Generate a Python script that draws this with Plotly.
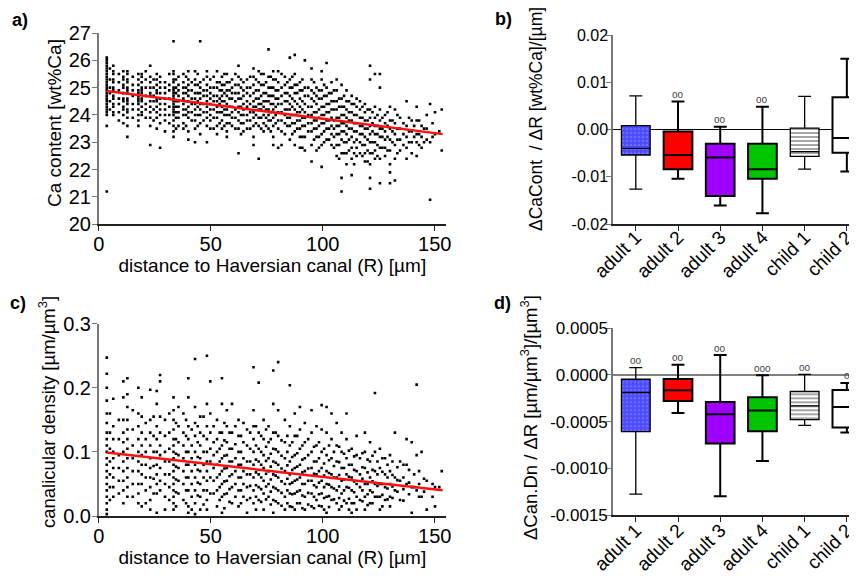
import plotly.graph_objects as go

# ---------------- Panel a: Ca content vs distance ----------------
a_x_cols = [3.6, 6.5, 11, 12.8, 17.7, 19.2, 23, 25.9, 27.4, 29.6, 33.4, 35.6, 37.8, 40, 43, 45.3,
            48.3, 49.8, 52.8, 55, 57.2, 59.5, 62.4, 64.6, 66.2, 69.1, 71.4, 73.6, 75.8, 77.9, 80.1,
            83.1, 85.3, 87.5, 89.8, 92, 95, 97.2, 99.5, 101.7, 103.9, 106.2, 108.4, 110.6, 112.9,
            115.1, 116.6, 118.8, 121.1, 123.3, 125.5, 127.8, 130, 132.2, 134.5, 137.4, 139.7, 141.9,
            144.1, 146.4, 147.9, 150.1, 153.1]
a_y_cols = [
    [26.1, 26.0, 25.9, 25.8, 25.7, 25.6, 25.5, 25.4, 25.3, 25.2, 25.1, 25.0, 24.9, 24.8, 24.7, 24.6, 24.5, 24.4, 24.3, 24.2, 24.1, 24.0, 23.6, 21.2],
    [25.8, 25.6, 25.5, 25.3, 25.2, 25.0, 24.9, 24.7, 24.6, 24.4, 24.3, 24.1, 24.0],
    [25.6, 25.4, 25.3, 25.1, 25.0, 24.8, 24.6, 24.5, 24.3, 24.2, 24.0, 23.7],
    [25.6, 25.5, 25.3, 25.2, 25.0, 24.9, 24.8, 24.6, 24.5, 24.4, 24.2, 24.1, 23.9, 23.6, 23.2],
    [25.5, 25.3, 25.1, 24.9, 24.8, 24.7, 24.6, 24.5, 24.4, 24.2, 24.0, 23.8, 23.6],
    [25.5, 25.4, 25.2, 25.0, 24.9, 24.8, 24.6, 24.5, 24.3, 24.1, 24.0],
    [25.8, 25.4, 25.2, 25.0, 24.8, 24.7, 24.5, 24.3, 24.1, 23.9, 23.6, 22.9],
    [25.5, 25.3, 25.1, 24.9, 24.8, 24.6, 24.5, 24.3, 24.1, 23.9, 23.5],
    [25.4, 25.2, 25.0, 24.8, 24.6, 24.4, 24.2, 24.0, 23.7, 22.8],
    [25.2, 25.0, 24.8, 24.6, 24.4, 24.2, 24.0, 23.8, 23.4],
    [26.7, 25.6, 25.5, 25.3, 25.2, 25.0, 24.9, 24.8, 24.7, 24.6, 24.5, 24.4, 24.3, 24.2, 24.1, 24.0, 23.8, 23.6, 23.4, 23.2],
    [25.4, 25.1, 24.9, 24.7, 24.5, 24.3, 24.1, 23.9, 23.6],
    [25.5, 25.2, 25.0, 24.8, 24.6, 24.4, 24.2, 24.0, 23.7, 23.5],
    [25.6, 25.3, 25.1, 24.9, 24.7, 24.5, 24.3, 24.1, 23.9, 23.4, 23.1],
    [25.6, 25.3, 25.1, 24.8, 24.6, 24.4, 24.2, 24.0, 23.8, 23.5, 23.0],
    [26.7, 25.2, 25.0, 24.8, 24.6, 24.4, 24.2, 24.0, 23.7, 23.3],
    [25.6, 25.4, 25.1, 24.9, 24.7, 24.5, 24.3, 24.1, 23.9, 23.6, 23.0],
    [25.3, 25.0, 24.8, 24.6, 24.4, 24.2, 24.0, 23.8, 23.5],
    [25.6, 25.2, 25.0, 24.7, 24.5, 24.3, 24.1, 23.9, 23.6, 23.3],
    [25.4, 25.1, 24.9, 24.7, 24.5, 24.3, 24.1, 23.8, 23.5],
    [25.5, 25.2, 24.9, 24.7, 24.4, 24.2, 24.0, 23.7, 23.4, 23.2],
    [25.3, 25.0, 24.8, 24.6, 24.3, 24.1, 23.9, 23.6],
    [25.8, 25.4, 25.1, 24.8, 24.6, 24.3, 24.1, 23.8, 23.5, 22.6],
    [25.2, 24.9, 24.7, 24.4, 24.2, 24.0, 23.7, 23.4],
    [25.3, 25.0, 24.8, 24.5, 24.3, 24.0, 23.8, 23.5],
    [25.7, 25.4, 25.1, 24.8, 24.5, 24.3, 24.1, 23.9, 23.6, 23.2, 22.9],
    [25.6, 25.2, 24.9, 24.6, 24.4, 24.2, 23.9, 23.6, 22.4],
    [25.5, 25.1, 24.8, 24.5, 24.3, 24.0, 23.7, 23.4],
    [26.4, 25.4, 25.0, 24.7, 24.5, 24.2, 24.0, 23.8, 23.5],
    [25.6, 25.3, 25.0, 24.7, 24.4, 24.2, 23.9, 23.6, 23.2, 22.9],
    [25.6, 25.2, 24.9, 24.6, 24.4, 24.1, 23.8, 23.5, 22.8],
    [25.4, 25.1, 24.8, 24.5, 24.2, 24.0, 23.7, 23.3],
    [26.1, 25.3, 25.0, 24.7, 24.4, 24.2, 23.9, 23.6, 23.1],
    [26.2, 25.5, 25.1, 24.8, 24.5, 24.2, 24.0, 23.7, 23.4, 22.9],
    [25.2, 24.9, 24.6, 24.3, 24.1, 23.8, 23.5, 23.2, 22.8],
    [26.0, 25.0, 24.7, 24.4, 24.1, 23.9, 23.6, 23.2, 22.7],
    [25.7, 25.3, 24.9, 24.6, 24.3, 24.0, 23.7, 23.4, 22.9, 22.3],
    [25.0, 24.7, 24.4, 24.1, 23.8, 23.5, 23.2, 22.7],
    [25.6, 25.3, 24.9, 24.6, 24.3, 24.0, 23.7, 23.3, 22.9, 22.1],
    [25.9, 25.0, 24.7, 24.4, 24.1, 23.8, 23.5, 23.1],
    [25.2, 24.8, 24.5, 24.2, 23.9, 23.6, 23.3, 22.9],
    [25.3, 24.9, 24.5, 24.2, 23.9, 23.6, 23.3, 22.9, 22.5],
    [25.1, 24.6, 24.3, 24.0, 23.7, 23.4, 23.1, 22.6, 21.7, 21.2],
    [24.9, 24.5, 24.2, 23.9, 23.6, 23.3, 23.0, 22.6, 22.2],
    [24.7, 24.4, 24.1, 23.8, 23.5, 23.2, 22.8, 22.4, 21.8],
    [24.6, 24.3, 24.0, 23.7, 23.4, 23.1, 22.8, 22.5],
    [24.5, 24.2, 23.9, 23.6, 23.3, 23.0, 22.6],
    [24.4, 24.1, 23.8, 23.5, 23.2, 22.9, 22.6, 22.3],
    [25.8, 25.3, 24.2, 23.9, 23.6, 23.3, 23.0, 22.6, 22.2, 21.7, 21.3],
    [25.5, 24.3, 23.9, 23.6, 23.3, 23.0, 22.7, 22.4],
    [25.5, 25.0, 24.2, 23.8, 23.5, 23.2, 22.8, 22.4, 21.5],
    [24.0, 23.7, 23.4, 23.1, 22.8, 22.5],
    [24.3, 23.8, 23.5, 23.1, 22.7, 22.2, 21.9, 21.5],
    [24.2, 23.7, 23.3, 22.9, 22.4, 21.6],
    [23.9, 23.5, 23.1, 22.7],
    [24.5, 23.6, 23.2, 22.8, 22.4],
    [23.8, 23.4, 23.0, 22.6],
    [24.3, 23.8, 23.3, 23.0, 22.5],
    [23.6, 23.2, 22.8],
    [24.0, 23.5, 23.1],
    [24.4, 23.0, 20.9],
    [24.1, 23.3],
    [24.2, 22.7],
]
# in-between measurement columns
a_x_cols2 = [5.0, 9.0, 15.2, 21.0, 24.5, 31.5, 34.5, 39.0, 41.5, 44.2, 46.8, 51.3, 54.0, 56.1,
             58.4, 61.0, 63.5, 67.6, 70.2, 72.5, 74.7, 76.8, 79.0, 81.6, 84.2, 86.4, 88.6, 90.9,
             93.5, 96.1, 98.3, 100.6, 102.8, 105.0, 107.3, 109.5, 111.7, 114.0, 117.7, 120.0,
             122.2, 124.4, 126.6, 128.9, 131.1, 133.3, 136.0, 138.5, 140.8, 143.0, 145.2, 149.0, 152.0]
a_y_cols2 = [
    [25.7, 25.3, 25.0, 24.8, 24.5, 24.2],
    [25.5, 25.2, 24.9, 24.6, 24.4, 24.1, 23.8],
    [25.4, 25.1, 24.9, 24.7, 24.4, 24.2, 23.9],
    [25.6, 25.3, 25.0, 24.7, 24.4, 24.2, 23.9],
    [25.3, 25.0, 24.7, 24.5, 24.2, 23.8],
    [25.5, 25.1, 24.9, 24.6, 24.3, 24.0, 23.7],
    [25.3, 25.0, 24.8, 24.5, 24.3, 24.1, 23.9, 23.5],
    [25.4, 25.0, 24.8, 24.5, 24.2, 24.0, 23.6],
    [25.2, 24.9, 24.6, 24.4, 24.1, 23.8],
    [25.5, 25.1, 24.8, 24.5, 24.3, 24.0, 23.6],
    [25.3, 24.9, 24.7, 24.4, 24.1, 23.8],
    [25.4, 25.0, 24.7, 24.5, 24.2, 23.9, 23.5],
    [25.2, 24.9, 24.6, 24.4, 24.1, 23.7],
    [25.5, 25.1, 24.8, 24.5, 24.2, 24.0, 23.6],
    [25.2, 24.9, 24.6, 24.3, 24.0, 23.7],
    [25.5, 25.1, 24.8, 24.5, 24.2, 23.9, 23.5],
    [25.3, 25.0, 24.6, 24.3, 24.0, 23.7, 23.3],
    [25.4, 25.0, 24.7, 24.4, 24.1, 23.8, 23.5],
    [25.3, 24.9, 24.6, 24.3, 24.0, 23.7],
    [25.5, 25.1, 24.7, 24.4, 24.2, 23.9, 23.5],
    [25.2, 24.8, 24.5, 24.2, 23.9, 23.6],
    [25.4, 25.0, 24.7, 24.4, 24.1, 23.8, 23.4],
    [25.3, 24.9, 24.6, 24.3, 24.0, 23.7],
    [25.5, 25.0, 24.7, 24.4, 24.1, 23.8, 23.4, 22.9],
    [25.2, 24.8, 24.5, 24.2, 23.9, 23.6],
    [25.4, 25.0, 24.6, 24.3, 24.0, 23.7, 23.3],
    [25.1, 24.8, 24.4, 24.1, 23.8, 23.5],
    [25.3, 24.9, 24.5, 24.2, 23.9, 23.6, 23.2, 22.8],
    [25.0, 24.7, 24.3, 24.0, 23.7, 23.4],
    [25.2, 24.8, 24.5, 24.1, 23.8, 23.5, 23.1],
    [24.9, 24.6, 24.2, 23.9, 23.6, 23.2, 22.8],
    [25.1, 24.7, 24.3, 24.0, 23.7, 23.4, 23.0],
    [24.8, 24.4, 24.1, 23.8, 23.5, 23.1],
    [24.9, 24.5, 24.2, 23.8, 23.5, 23.2, 22.8],
    [24.6, 24.3, 23.9, 23.6, 23.3, 22.9, 22.4],
    [24.7, 24.3, 24.0, 23.7, 23.4, 23.0, 22.6],
    [24.5, 24.1, 23.8, 23.5, 23.1, 22.7],
    [24.4, 24.0, 23.7, 23.4, 23.0, 22.6, 22.2],
    [24.3, 23.9, 23.6, 23.3, 22.9, 22.5],
    [24.2, 23.8, 23.5, 23.1, 22.7, 22.3],
    [24.1, 23.7, 23.4, 23.0, 22.6],
    [24.0, 23.6, 23.3, 22.9, 22.5],
    [23.9, 23.5, 23.2, 22.8],
    [24.1, 23.6, 23.2, 22.7],
    [23.8, 23.4, 23.0],
    [24.0, 23.5, 23.1, 22.6],
    [23.7, 23.3, 22.9],
    [23.9, 23.4, 23.0],
    [23.6, 23.2],
    [23.8, 23.3, 22.9],
    [23.5, 23.0],
    [23.7, 23.2],
    [23.4],
]
a_fit_x = [3.5, 153.5]
a_fit_y = [24.88, 23.30]

# ---------------- Panel c: canalicular density vs distance ----------------
c_x_cols = [3.6, 6.5, 11, 12.8, 17.7, 19.2, 23, 25.9, 27.4, 29.6, 33.4, 35.6, 37.8, 40, 43, 45.3,
            48.3, 49.8, 52.8, 55, 57.2, 59.5, 62.4, 64.6, 66.2, 69.1, 71.4, 73.6, 75.8, 77.9, 80.1,
            83.1, 85.3, 87.5, 89.8, 92, 95, 97.2, 99.5, 101.7, 103.9, 106.2, 108.4, 110.6, 112.9,
            115.1, 116.6, 118.8, 121.1, 123.3, 125.5, 127.8, 130, 132.2, 134.5, 137.4, 139.7, 141.9,
            144.1, 146.4, 150.1, 153.1]
c_y_cols = [
    [0.247, 0.222, 0.2, 0.18, 0.16, 0.145, 0.13, 0.12, 0.11, 0.1, 0.09, 0.08, 0.07, 0.06, 0.05, 0.04, 0.03, 0.02, 0.01, 0.003],
    [0.183, 0.14, 0.12, 0.1, 0.09, 0.075, 0.06, 0.045, 0.03],
    [0.21, 0.185, 0.15, 0.13, 0.115, 0.1, 0.085, 0.07, 0.055, 0.04, 0.02],
    [0.215, 0.19, 0.17, 0.15, 0.135, 0.12, 0.105, 0.09, 0.075, 0.06, 0.045, 0.03],
    [0.2, 0.16, 0.14, 0.12, 0.1, 0.085, 0.07, 0.05, 0.035, 0.02],
    [0.185, 0.155, 0.13, 0.11, 0.095, 0.08, 0.065, 0.05, 0.015],
    [0.197, 0.15, 0.13, 0.11, 0.09, 0.075, 0.06, 0.045, 0.025, 0.01],
    [0.195, 0.175, 0.14, 0.12, 0.1, 0.08, 0.065, 0.05, 0.035, 0.005],
    [0.22, 0.21, 0.155, 0.13, 0.11, 0.095, 0.075, 0.055, 0.04],
    [0.15, 0.125, 0.1, 0.085, 0.065, 0.05, 0.03, 0.01],
    [0.185, 0.165, 0.15, 0.135, 0.12, 0.11, 0.1, 0.09, 0.08, 0.07, 0.06, 0.05, 0.04, 0.03, 0.02, 0.01],
    [0.17, 0.14, 0.115, 0.095, 0.075, 0.055, 0.035],
    [0.16, 0.13, 0.11, 0.09, 0.07, 0.05, 0.025],
    [0.215, 0.185, 0.14, 0.12, 0.1, 0.08, 0.06, 0.04, 0.015, 0.005],
    [0.245, 0.17, 0.145, 0.125, 0.1, 0.08, 0.06, 0.04, 0.02, 0.003],
    [0.155, 0.13, 0.11, 0.09, 0.07, 0.05, 0.03, 0.01],
    [0.25, 0.175, 0.14, 0.12, 0.1, 0.085, 0.07, 0.055, 0.04, 0.025, 0.01],
    [0.21, 0.16, 0.13, 0.105, 0.085, 0.06, 0.035],
    [0.15, 0.12, 0.1, 0.08, 0.06, 0.04, 0.015],
    [0.215, 0.175, 0.13, 0.11, 0.09, 0.07, 0.05, 0.03, 0.005],
    [0.165, 0.14, 0.115, 0.095, 0.075, 0.055, 0.035],
    [0.175, 0.13, 0.105, 0.085, 0.065, 0.045, 0.02],
    [0.15, 0.125, 0.1, 0.08, 0.06, 0.04, 0.015],
    [0.145, 0.115, 0.09, 0.07, 0.05, 0.03],
    [0.135, 0.11, 0.085, 0.065, 0.045, 0.025, 0.005],
    [0.232, 0.165, 0.14, 0.12, 0.1, 0.08, 0.06, 0.04, 0.02],
    [0.208, 0.13, 0.105, 0.085, 0.065, 0.045, 0.025],
    [0.15, 0.12, 0.095, 0.075, 0.055, 0.035, 0.01],
    [0.14, 0.115, 0.09, 0.07, 0.05, 0.03],
    [0.227, 0.175, 0.13, 0.105, 0.085, 0.065, 0.045, 0.025, 0.005],
    [0.24, 0.165, 0.125, 0.1, 0.08, 0.06, 0.04, 0.02],
    [0.15, 0.115, 0.09, 0.07, 0.05, 0.03, 0.01],
    [0.204, 0.14, 0.11, 0.085, 0.065, 0.05, 0.035, 0.015],
    [0.16, 0.125, 0.095, 0.075, 0.055, 0.035, 0.01],
    [0.17, 0.135, 0.105, 0.08, 0.06, 0.04, 0.02],
    [0.145, 0.115, 0.09, 0.07, 0.05, 0.03, 0.01],
    [0.165, 0.13, 0.1, 0.075, 0.055, 0.035, 0.015],
    [0.14, 0.11, 0.085, 0.065, 0.045, 0.025],
    [0.173, 0.135, 0.1, 0.075, 0.055, 0.035, 0.015],
    [0.17, 0.13, 0.095, 0.07, 0.05, 0.03, 0.005],
    [0.16, 0.12, 0.09, 0.065, 0.045, 0.025],
    [0.145, 0.11, 0.085, 0.06, 0.04, 0.02],
    [0.13, 0.1, 0.075, 0.055, 0.035, 0.015],
    [0.16, 0.12, 0.09, 0.065, 0.045, 0.02],
    [0.105, 0.08, 0.06, 0.04, 0.02, 0.005],
    [0.125, 0.095, 0.07, 0.05, 0.03, 0.01],
    [0.09, 0.065, 0.045, 0.025],
    [0.13, 0.1, 0.075, 0.05, 0.03, 0.01],
    [0.115, 0.085, 0.06, 0.04, 0.02],
    [0.192, 0.1, 0.07, 0.05, 0.03],
    [0.105, 0.075, 0.05, 0.03, 0.01],
    [0.09, 0.065, 0.045, 0.025],
    [0.095, 0.07, 0.05, 0.03, 0.015],
    [0.13, 0.06, 0.04],
    [0.085, 0.055, 0.025],
    [0.12, 0.08, 0.05],
    [0.115, 0.045, 0.005],
    [0.205, 0.095, 0.04],
    [0.1, 0.03],
    [0.055, 0.01],
    [0.045, 0.015],
    [0.07],
]
c_x_cols2 = a_x_cols2
c_y_cols2 = [
    [0.16, 0.13, 0.105, 0.085, 0.065, 0.045, 0.025],
    [0.15, 0.12, 0.095, 0.075, 0.055, 0.035],
    [0.165, 0.135, 0.11, 0.09, 0.07, 0.05, 0.03],
    [0.145, 0.12, 0.1, 0.08, 0.06, 0.04, 0.02],
    [0.155, 0.125, 0.1, 0.078, 0.058, 0.035],
    [0.16, 0.13, 0.105, 0.085, 0.065, 0.045, 0.025],
    [0.145, 0.12, 0.097, 0.077, 0.057, 0.037, 0.015],
    [0.15, 0.125, 0.1, 0.08, 0.06, 0.04, 0.02],
    [0.135, 0.11, 0.09, 0.07, 0.05, 0.03, 0.01],
    [0.14, 0.115, 0.092, 0.072, 0.052, 0.032],
    [0.155, 0.125, 0.1, 0.08, 0.06, 0.04, 0.018],
    [0.14, 0.115, 0.095, 0.075, 0.055, 0.035],
    [0.13, 0.105, 0.085, 0.065, 0.045, 0.025],
    [0.145, 0.118, 0.094, 0.074, 0.054, 0.034, 0.012],
    [0.13, 0.105, 0.085, 0.062, 0.042, 0.022],
    [0.14, 0.112, 0.09, 0.07, 0.05, 0.03],
    [0.125, 0.1, 0.08, 0.06, 0.04, 0.02],
    [0.13, 0.105, 0.085, 0.065, 0.047, 0.028],
    [0.14, 0.11, 0.088, 0.068, 0.048, 0.03, 0.01],
    [0.125, 0.1, 0.08, 0.06, 0.042, 0.022],
    [0.135, 0.108, 0.086, 0.066, 0.046, 0.026],
    [0.12, 0.097, 0.077, 0.057, 0.038, 0.018],
    [0.13, 0.104, 0.083, 0.063, 0.043, 0.023],
    [0.118, 0.094, 0.074, 0.054, 0.036, 0.016],
    [0.125, 0.1, 0.079, 0.058, 0.04, 0.02],
    [0.115, 0.092, 0.072, 0.052, 0.034, 0.014],
    [0.125, 0.098, 0.077, 0.057, 0.038, 0.02],
    [0.11, 0.088, 0.068, 0.05, 0.032, 0.012],
    [0.12, 0.095, 0.074, 0.055, 0.036, 0.018],
    [0.108, 0.085, 0.066, 0.048, 0.03, 0.012],
    [0.115, 0.09, 0.07, 0.052, 0.034, 0.016],
    [0.105, 0.082, 0.063, 0.045, 0.028, 0.01],
    [0.11, 0.087, 0.067, 0.049, 0.031, 0.014],
    [0.1, 0.078, 0.06, 0.043, 0.026],
    [0.108, 0.084, 0.064, 0.046, 0.028, 0.01],
    [0.097, 0.075, 0.057, 0.04, 0.024],
    [0.102, 0.08, 0.061, 0.044, 0.027, 0.01],
    [0.093, 0.072, 0.054, 0.037, 0.02],
    [0.098, 0.076, 0.058, 0.04, 0.023],
    [0.088, 0.068, 0.05, 0.034, 0.017],
    [0.094, 0.072, 0.054, 0.037, 0.02],
    [0.085, 0.065, 0.047, 0.03],
    [0.09, 0.069, 0.05, 0.033, 0.015],
    [0.08, 0.06, 0.043, 0.026],
    [0.085, 0.064, 0.046, 0.028],
    [0.076, 0.056, 0.038],
    [0.08, 0.06, 0.042, 0.024],
    [0.072, 0.052, 0.034],
    [0.065, 0.045],
    [0.07, 0.05, 0.03],
    [0.058, 0.038],
    [0.05, 0.03],
    [0.045],
]
c_fit_x = [3.5, 153.5]
c_fit_y = [0.099, 0.040]

# ---------------- Panels b and d: box plots ----------------
groups = ["adult 1", "adult 2", "adult 3", "adult 4", "child 1", "child 2"]
b_low = [-0.0126, -0.0104, -0.0161, -0.0177, -0.0084, -0.0089]
b_q1 = [-0.0054, -0.0084, -0.0141, -0.0104, -0.0057, -0.0049]
b_med = [-0.0040, -0.0054, -0.0059, -0.0084, -0.0047, -0.0018]
b_q3 = [0.0008, -0.0004, -0.0030, -0.0030, 0.0003, 0.0068]
b_high = [0.0071, 0.0059, 0.0006, 0.0048, 0.0070, 0.0150]
b_marks = ["", "oo", "oo", "oo", "", ""]

d_low = [-0.001277, -0.000408, -0.00130, -0.000922, -0.000539, -0.000617]
d_q1 = [-0.000606, -0.000280, -0.000734, -0.000603, -0.000479, -0.000564]
d_med = [-0.000188, -0.000163, -0.000420, -0.000380, -0.000330, -0.000344]
d_q3 = [-0.000046, -0.000043, -0.000290, -0.000238, -0.000177, -0.000160]
d_high = [0.000078, 0.000110, 0.000213, -0.000004, 0.000007, -0.000085]
d_marks = ["oo", "oo", "oo", "ooo", "oo", "o"]

group_fill = ["#4b4bff", "#ff0000", "#a000ff", "#00c400", "#ffffff", "#ffffff"]
group_line_w = [1.3, 2.0, 2.0, 2.0, 1.3, 2.0]
group_pattern = [".", "", "", "", "-", ""]
group_pattern_fg = ["#8c8cff", "", "", "", "#000000", ""]

# tick labels and titles
a_yticks = [20, 21, 22, 23, 24, 25, 26, 27]
dist_ticks = [0, 50, 100, 150]
c_yticks = [0.0, 0.1, 0.2, 0.3]
c_yticklabels = ["0.0", "0.1", "0.2", "0.3"]
b_yticks = [0.02, 0.01, 0.0, -0.01, -0.02]
b_yticklabels = ["0.02", "0.01", "0.00", "-0.01", "-0.02"]
d_yticks = [0.0005, 0.0, -0.0005, -0.0010, -0.0015]
d_yticklabels = ["0.0005", "0.0000", "-0.0005", "-0.0010", "-0.0015"]
x_title = "distance to Haversian canal (R) [µm]"
a_ytitle = "Ca content [wt%Ca]"
c_ytitle = "canalicular density [µm/µm<sup>3</sup>]"
b_ytitle = "ΔCaCont  / ΔR [wt%Ca]/[µm]"
d_ytitle = "ΔCan.Dn / ΔR [µm/µm<sup>3</sup>]/[µm<sup>3</sup>]"

FONT = "Liberation Sans, Arial, sans-serif"
W, H = 857, 578
OFF = 8  # page body margin in the browser


def fx(X):
    return (X - OFF) / W


def fy(Y):
    return 1 - (Y - OFF) / H


fig = go.Figure()


def flatten(*pairs):
    ox, oy = [], []
    for xs, ys in pairs:
        for x, col in zip(xs, ys):
            for v in col:
                ox.append(x)
                oy.append(v)
    return ox, oy


for cols, lx, ly, xa, ya in [(((a_x_cols, a_y_cols), (a_x_cols2, a_y_cols2)), a_fit_x, a_fit_y, "x", "y"),
                             (((c_x_cols, c_y_cols), (c_x_cols2, c_y_cols2)), c_fit_x, c_fit_y, "x3", "y3")]:
    px, py = flatten(*cols)
    fig.add_trace(go.Scatter(x=px, y=py, mode="markers", xaxis=xa, yaxis=ya,
                             marker=dict(symbol="square", size=2.6, color="black"),
                             showlegend=False, hoverinfo="skip"))
    fig.add_trace(go.Scatter(x=lx, y=ly, mode="lines", xaxis=xa, yaxis=ya,
                             line=dict(color="#ff1010", width=2.5), showlegend=False))

for low, q1, med, q3, high, marks, xa, ya in [
        (b_low, b_q1, b_med, b_q3, b_high, b_marks, "x2", "y2"),
        (d_low, d_q1, d_med, d_q3, d_high, d_marks, "x4", "y4")]:
    for i, g in enumerate(groups):
        if group_pattern[i]:
            fig.add_trace(go.Bar(x=[g], y=[q3[i] - q1[i]], base=[q1[i]], width=0.68,
                                 xaxis=xa, yaxis=ya, showlegend=False,
                                 marker=dict(color=group_fill[i], line=dict(width=0),
                                             pattern=dict(shape=group_pattern[i],
                                                          fgcolor=group_pattern_fg[i],
                                                          size=4, solidity=0.35))))
            fill = "rgba(0,0,0,0)"
        else:
            fill = group_fill[i]
        fig.add_trace(go.Box(x=[g], q1=[q1[i]], median=[med[i]], q3=[q3[i]],
                             lowerfence=[low[i]], upperfence=[high[i]],
                             xaxis=xa, yaxis=ya, width=0.68, whiskerwidth=0.45,
                             fillcolor=fill, boxpoints=False,
                             line=dict(color="black", width=group_line_w[i]),
                             showlegend=False))
        if marks[i]:
            fig.add_annotation(x=g, y=high[i], xref=xa, yref=ya, text=marks[i],
                               showarrow=False, yshift=7,
                               font=dict(family=FONT, size=10, color="#444"))

tickfont = dict(family=FONT, size=20, color="black")
b_ytickfont = dict(family=FONT, size=16, color="black")
d_ytickfont = dict(family=FONT, size=17, color="black")
box_xtickfont = dict(family=FONT, size=19, color="black")

xa_common = dict(showline=True, linecolor="#222", linewidth=1.5, ticks="outside",
                 ticklen=5, tickwidth=1.3, tickcolor="#222", showgrid=False, zeroline=False,
                 tickfont=tickfont, automargin=False)
ya_common = dict(showline=True, linecolor="#777", linewidth=1.5, ticks="outside",
                 ticklen=5, tickwidth=1.3, tickcolor="#777", showgrid=False,
                 tickfont=tickfont, automargin=False, ticklabelstandoff=-3)

x_dom_left = [fx(98.7), fx(446)]
x_dom_right = [fx(613), 1.0]

fig.update_layout(
    width=W, height=H, autosize=False,
    margin=dict(l=0, r=0, t=0, b=0),
    paper_bgcolor="white", plot_bgcolor="white",
    boxmode="overlay", barmode="overlay", showlegend=False,
    font=dict(family=FONT, color="black"),
    xaxis=dict(**xa_common, domain=x_dom_left, range=[0, 155], anchor="y",
               tickvals=dist_ticks, ticklabelstandoff=-4,
               title=dict(text=x_title, font=dict(family=FONT, size=19, color="black"), standoff=1)),
    yaxis=dict(**ya_common, domain=[fy(224.3), fy(33)], range=[20, 27], anchor="x",
               zeroline=False, tickvals=a_yticks),
    xaxis3=dict(**xa_common, domain=x_dom_left, range=[0, 155], anchor="y3",
                tickvals=dist_ticks, ticklabelstandoff=-4,
                title=dict(text=x_title, font=dict(family=FONT, size=19, color="black"), standoff=1)),
    yaxis3=dict(**ya_common, domain=[fy(516), fy(323.7)], range=[0, 0.3], anchor="x3",
                zeroline=False, tickvals=c_yticks, ticktext=c_yticklabels),
    xaxis2=dict(**{**xa_common, "tickfont": box_xtickfont}, domain=x_dom_right,
                range=[-0.54, 5.43], anchor="y2", type="category",
                categoryorder="array", categoryarray=groups, tickangle=-45,
                ticklabelstandoff=-12),
    yaxis2=dict(**{**ya_common, "tickfont": b_ytickfont, "ticklabelstandoff": -5},
                domain=[fy(224), fy(35)], range=[-0.02, 0.02], anchor="x2",
                zeroline=True, zerolinecolor="black", zerolinewidth=1,
                tickvals=b_yticks, ticktext=b_yticklabels),
    xaxis4=dict(**{**xa_common, "tickfont": box_xtickfont}, domain=x_dom_right,
                range=[-0.54, 5.43], anchor="y4", type="category",
                categoryorder="array", categoryarray=groups, tickangle=-45,
                ticklabelstandoff=-10),
    yaxis4=dict(**{**ya_common, "tickfont": d_ytickfont, "ticklabelstandoff": -5},
                domain=[fy(515), fy(328.3)], range=[-0.0015, 0.0005], anchor="x4",
                zeroline=True, zerolinecolor="#808080", zerolinewidth=2,
                tickvals=d_yticks, ticktext=d_yticklabels),
)

# y-axis titles (rotated), placed like the original figure
for txt, cx, cy, fs in [(a_ytitle, 54, 123, 19), (c_ytitle, 47, 412, 18.5),
                        (b_ytitle, 536, 119, 17.5), (d_ytitle, 529, 418, 18.5)]:
    fig.add_annotation(x=fx(cx), y=fy(cy), xref="paper", yref="paper", text=txt, textangle=-90,
                       showarrow=False, xanchor="center", yanchor="middle",
                       font=dict(family=FONT, size=fs, color="black"))

panel_labels = [("a)", 10, 20), ("b)", 493, 19), ("c)", 8, 303), ("d)", 492, 303)]
for txt, px_, py_ in panel_labels:
    fig.add_annotation(x=fx(px_), y=fy(py_), xref="paper", yref="paper", text="<b>%s</b>" % txt,
                       showarrow=False, xanchor="left", yanchor="middle",
                       font=dict(family=FONT, size=18, color="black"))

fig.write_html("out.html")
